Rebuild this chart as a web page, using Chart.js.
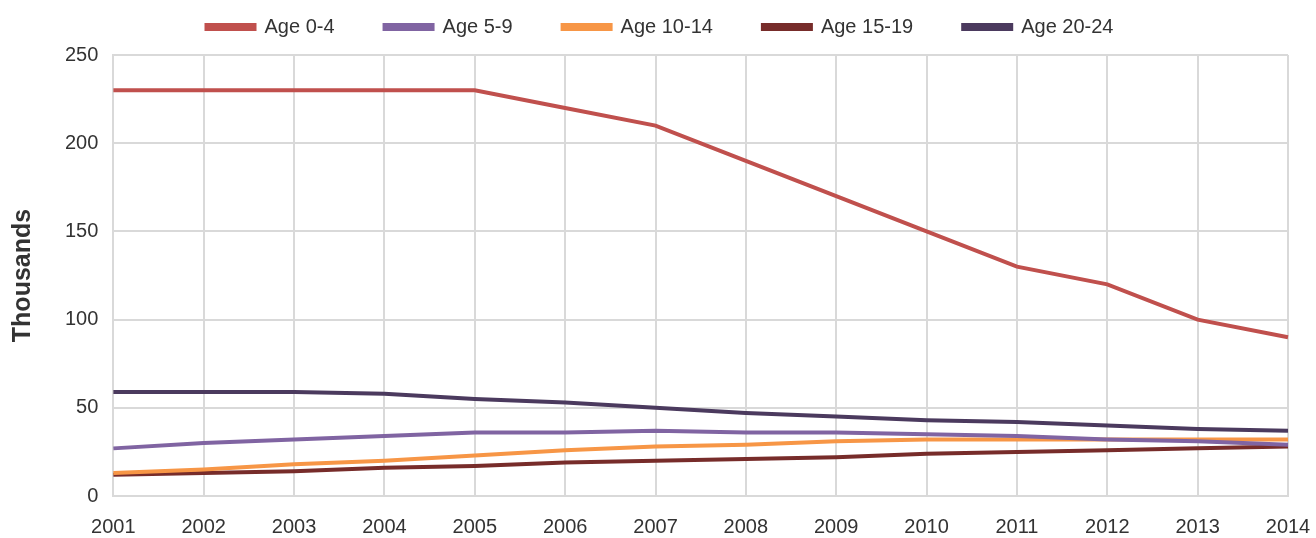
<!DOCTYPE html>
<html>
<head>
<meta charset="utf-8">
<script src="https://cdn.jsdelivr.net/npm/chart.js@4"></script>
<style>
  html, body { margin: 0; padding: 0; background: #fff; overflow: hidden; }
  #wrap { width: 1316px; height: 538px; }
</style>
</head>
<body>
<div id="wrap"><canvas id="ageChart"></canvas></div>
<script>
// Data
const years = ['2001', '2002', '2003', '2004', '2005', '2006', '2007', '2008', '2009', '2010', '2011', '2012', '2013', '2014'];
const age0to4 = [230, 230, 230, 230, 230, 220, 210, 190, 170, 150, 130, 120, 100, 90];
const age5to9 = [27, 30, 32, 34, 36, 36, 37, 36, 36, 35, 34, 32, 31, 29];
const age10to14 = [13, 15, 18, 20, 23, 26, 28, 29, 31, 32, 32, 32, 32, 32];
const age15to19 = [12, 13, 14, 16, 17, 19, 20, 21, 22, 24, 25, 26, 27, 28];
const age20to24 = [59, 59, 59, 58, 55, 53, 50, 47, 45, 43, 42, 40, 38, 37];
const yTicks = [0, 50, 100, 150, 200, 250];

const fontFamily = '"Liberation Sans", Arial, sans-serif';
const textColor = '#333333';

function series(label, data, color) {
  return {
    label: label,
    data: data,
    borderColor: color,
    backgroundColor: color,
    borderWidth: 4,
    pointRadius: 0,
    tension: 0
  };
}

// legend height fixed so the plot starts where the original does
const legendHeight = {
  id: 'legendHeight',
  beforeInit(chart) {
    const origFit = chart.legend.fit;
    chart.legend.fit = function () {
      origFit.bind(chart.legend)();
      this.height = 88;
    };
  }
};

const ctx = document.getElementById('ageChart').getContext('2d');
new Chart(ctx, {
  type: 'line',
  data: {
    labels: years,
    datasets: [
      series('Age 0-4', age0to4, '#c0504d'),
      series('Age 5-9', age5to9, '#8064a2'),
      series('Age 10-14', age10to14, '#f79646'),
      series('Age 15-19', age15to19, '#772c2a'),
      series('Age 20-24', age20to24, '#4b3a5e')
    ]
  },
  plugins: [legendHeight],
  options: {
    responsive: true,
    maintainAspectRatio: false,
    animation: false,
    layout: { padding: { left: 4, right: 0, top: -33, bottom: -20 } },
    plugins: {
      legend: {
        position: 'top',
        labels: {
          boxWidth: 48,
          boxHeight: 4,
          padding: 50,
          color: textColor,
          font: { family: fontFamily, size: 20 }
        }
      },
      tooltip: { enabled: false }
    },
    scales: {
      x: {
        offset: false,
        afterFit: (scale) => { scale.paddingRight = 28; },
        grid: { color: '#d9d9d9', lineWidth: 2, drawTicks: false },
        border: { color: '#d9d9d9', width: 2 },
        ticks: {
          color: textColor,
          padding: 19,
          maxRotation: 0,
          font: { family: fontFamily, size: 20 }
        }
      },
      y: {
        min: 0,
        max: 250,
        afterBuildTicks: (axis) => { axis.ticks = yTicks.map(v => ({ value: v })); },
        grid: { color: '#d9d9d9', lineWidth: 2, drawTicks: false },
        border: { color: '#d9d9d9', width: 2 },
        title: {
          display: true,
          text: 'Thousands',
          color: textColor,
          padding: { top: 4, bottom: 12 },
          font: { family: fontFamily, size: 25, weight: 'bold' }
        },
        ticks: {
          color: textColor,
          padding: 15,
          font: { family: fontFamily, size: 20 }
        }
      }
    }
  }
});
</script>
</body>
</html>
